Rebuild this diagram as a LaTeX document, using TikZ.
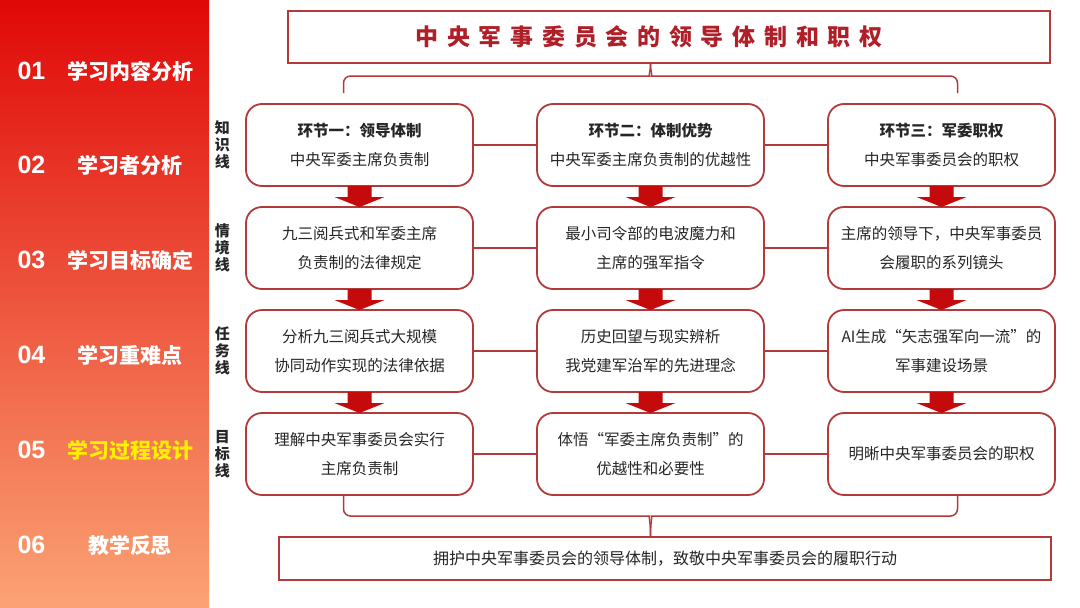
\documentclass[tikz,border=0pt]{standalone}
\usepackage{fontspec}
\setmainfont{Noto Sans CJK SC}
\newfontfamily\numfont{Liberation Sans}
\newfontfamily\spacedfont[LetterSpace=38]{Noto Sans CJK SC}
\usetikzlibrary{positioning,calc}
\definecolor{framered}{HTML}{B23A3A}
\definecolor{arrowred}{HTML}{C40A0A}
\definecolor{titlered}{HTML}{B01E28}
\definecolor{paneltop}{HTML}{E00808}
\definecolor{panelbot}{HTML}{FBA374}
\definecolor{menuhl}{HTML}{FFF000}

\begin{document}
\begin{tikzpicture}[
    x=1pt, y=-1pt,
    node distance=21pt and 64pt,
 stage/.style = {
        draw=framered, line width=1.8pt, rounded corners=16pt, fill=white,
        minimum width=227pt, minimum height=82pt, align=center,
        font=\fontsize{15.5}{29}\selectfont, text=black!85,
        inner sep=0pt, outer sep=0pt},
 bigbox/.style = {
        draw=framered, line width=1.8pt, fill=white,
        inner sep=0pt, outer sep=0pt},
 sidelbl/.style = {
        font=\fontsize{15}{17}\selectfont\bfseries, align=center,
        text=black!85, inner sep=0pt},
 menunum/.style = {
        anchor=west, text=white, font=\numfont\bfseries\fontsize{25}{25}\selectfont},
 menuitem/.style = {
        font=\fontsize{21}{21}\selectfont\bfseries},
 link/.style = {draw=framered, line width=1.5pt},
 brace/.style = {draw=framered, line width=1.5pt, rounded corners=7pt},
 barrow/.style = {fill=arrowred, to path={
        let \p1=(\tikztostart), \p2=(\tikztotarget) in
        (\x1-12pt,\y1) -- (\x1+12pt,\y1) -- (\x1+12pt,\y2+10pt)
        -- (\x1+25pt,\y2+10pt) -- (\x1,\y2) -- (\x1-25pt,\y2+10pt)
        -- (\x1-12pt,\y2+10pt) -- cycle}}
                    ]
\useasboundingbox (0,0) rectangle (1080,608);
\fill[white] (0,0) rectangle (1080,608);
% the menu panel on the left
\shade[top color=paneltop, bottom color=panelbot] (0,0) rectangle (209,608);
\node[menunum] (num1) at (14,71)  {01};
\node[menuitem,text=white] (item1) at (130,71)  {学习内容分析};
\node[menunum] (num2) at (14,165) {02};
\node[menuitem,text=white] (item2) at (130,165) {学习者分析};
\node[menunum] (num3) at (14,260) {03};
\node[menuitem,text=white] (item3) at (130,260) {学习目标确定};
\node[menunum] (num4) at (14,355) {04};
\node[menuitem,text=white] (item4) at (130,355) {学习重难点};
\node[menunum] (num5) at (14,450) {05};
\node[menuitem,text=menuhl] (item5) at (130,450) {学习过程设计};
\node[menunum] (num6) at (14,545) {06};
\node[menuitem,text=white] (item6) at (130,545) {教学反思};

% the title
\node[bigbox, minimum width=762pt, minimum height=52pt] (title) at (669,37) {};
\node[font=\spacedfont\bfseries\fontsize{23}{23}\selectfont, text=titlered]
     (titletxt) at ([xshift=-20pt]title.center) {中央军事委员会的领导体制和职权};

% the grid of stages
\node (k1) [stage] at (359.5,145) {{\bfseries 环节一：领导体制}\\中央军委主席负责制};
\node (k2) [stage,right=of k1] {{\bfseries 环节二：体制优势}\\中央军委主席负责制的优越性};
\node (k3) [stage,right=of k2] {{\bfseries 环节三：军委职权}\\中央军事委员会的职权};
\node (s1) [stage,below=of k1] {九三阅兵式和军委主席\\负责制的法律规定};
\node (s2) [stage,below=of k2] {最小司令部的电波魔力和\\主席的强军指令};
\node (s3) [stage,below=of k3] {主席的领导下，中央军事委员\\会履职的系列镜头};
\node (t1) [stage,below=of s1] {分析九三阅兵式大规模\\协同动作实现的法律依据};
\node (t2) [stage,below=of s2] {历史回望与现实辨析\\我党建军治军的先进理念};
\node (t3) [stage,below=of s3] {AI生成“矢志强军向一流”的\\军事建设场景};
\node (g1) [stage,below=of t1] {理解中央军事委员会实行\\主席负责制};
\node (g2) [stage,below=of t2] {体悟“军委主席负责制”的\\优越性和必要性};
\node (g3) [stage,below=of t3] {明晰中央军事委员会的职权};

% the line names on the left
\node[sidelbl,left=16pt of k1] (lk) {知\\识\\线};
\node[sidelbl,left=16pt of s1] (ls) {情\\境\\线};
\node[sidelbl,left=16pt of t1] (lt) {任\\务\\线};
\node[sidelbl,left=16pt of g1] (lg) {目\\标\\线};

% links inside each row
\draw[link] (k1) -- (k2);  \draw[link] (k2) -- (k3);
\draw[link] (s1) -- (s2);  \draw[link] (s2) -- (s3);
\draw[link] (t1) -- (t2);  \draw[link] (t2) -- (t3);
\draw[link] (g1) -- (g2);  \draw[link] (g2) -- (g3);

% block arrows down the columns
\path[barrow] (k1.south) to (s1.north);
\path[barrow] (k2.south) to (s2.north);
\path[barrow] (k3.south) to (s3.north);
\path[barrow] (s1.south) to (t1.north);
\path[barrow] (s2.south) to (t2.north);
\path[barrow] (s3.south) to (t3.north);
\path[barrow] (t1.south) to (g1.north);
\path[barrow] (t2.south) to (g2.north);
\path[barrow] (t3.south) to (g3.north);

% the brace under the title
\coordinate (tp) at (title.south -| k2.north);
\coordinate (tl) at ($(k1.north)+(-16,-11)$);
\coordinate (tr) at ($(k3.north)+(16,-11)$);
\draw[brace] (tl) |- ($(tp)+(-8,13)$)
    .. controls ($(tp)+(-2,13)$) and ($(tp)+(0,9)$) .. (tp);
\draw[brace] (tr) |- ($(tp)+(8,13)$)
    .. controls ($(tp)+(2,13)$) and ($(tp)+(0,9)$) .. (tp);

% the summary at the bottom
\node[bigbox, minimum width=772pt, minimum height=43pt,
      font=\fontsize{16}{16}\selectfont, text=black!85] (foot) at (665,558.5)
      {拥护中央军事委员会的领导体制，致敬中央军事委员会的履职行动};
\coordinate (bp) at (foot.north -| g2.south);
\coordinate (bl) at ($(g1.south)+(-16,0)$);
\coordinate (br) at ($(g3.south)+(16,0)$);
\draw[brace] (bl) |- ($(bp)+(-8,-21)$)
    .. controls ($(bp)+(-2,-21)$) and ($(bp)+(0,-17)$) .. (bp);
\draw[brace] (br) |- ($(bp)+(8,-21)$)
    .. controls ($(bp)+(2,-21)$) and ($(bp)+(0,-17)$) .. (bp);
\end{tikzpicture}
\end{document}
